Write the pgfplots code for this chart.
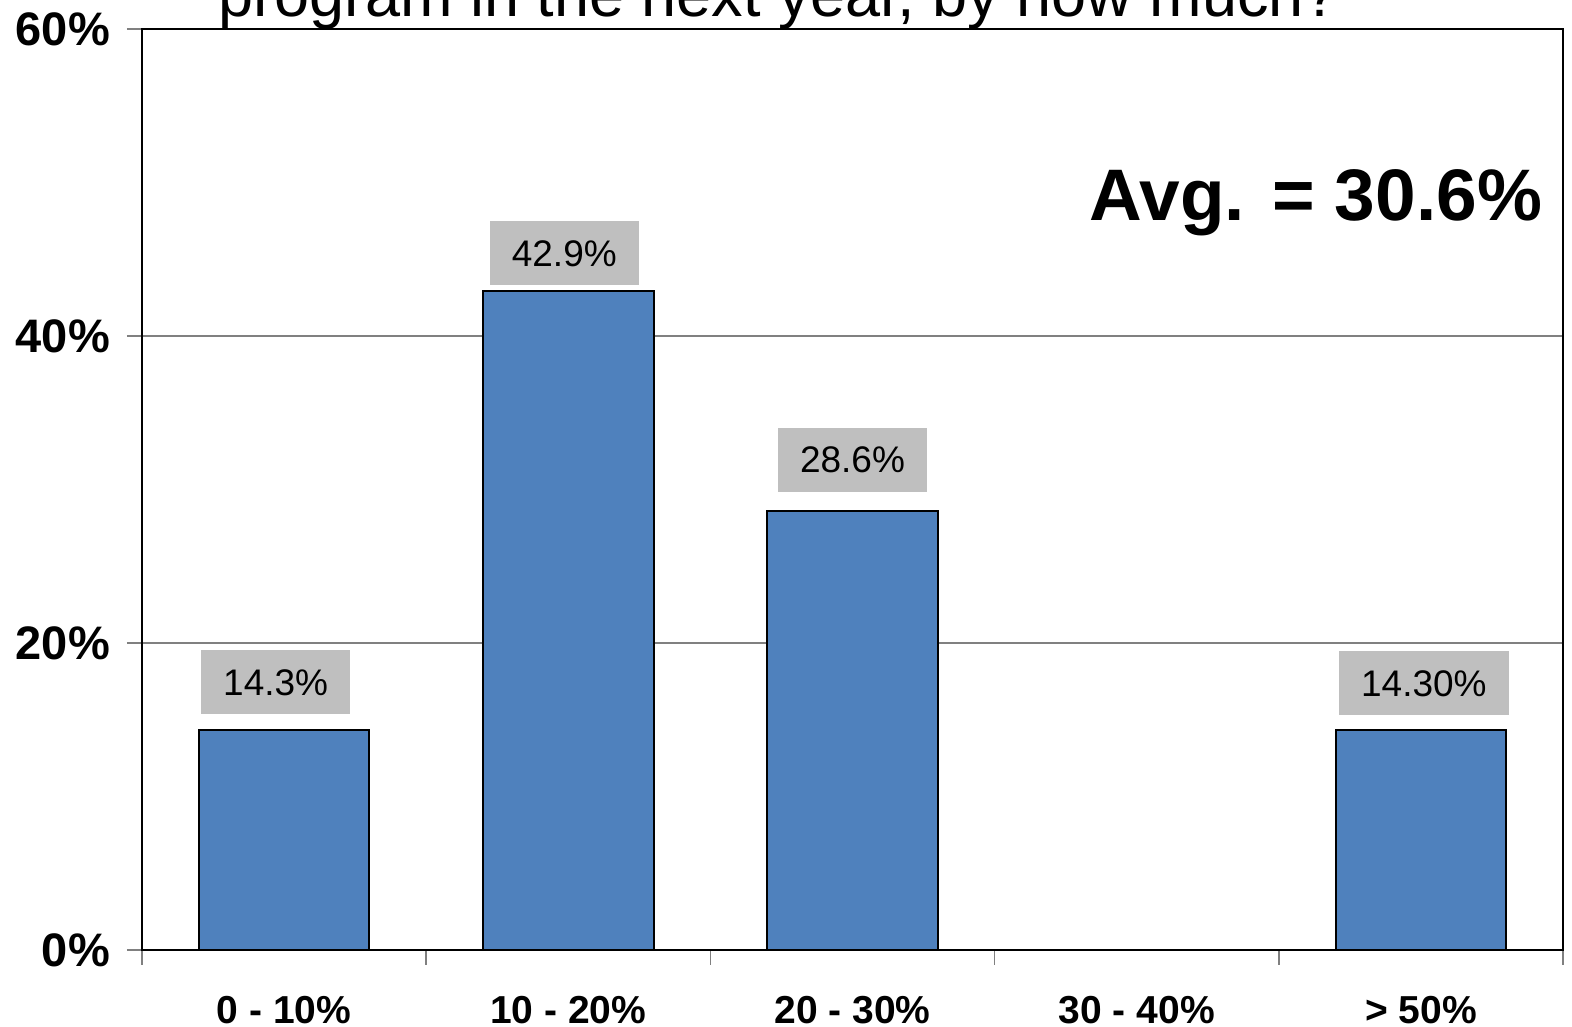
\documentclass[border=0pt]{standalone}
\usepackage{fontspec}
\setmainfont{Liberation Sans}
\usepackage{pgfplots}
\pgfplotsset{compat=1.18}
\usepackage{pgfplotstable}
\definecolor{barblue}{HTML}{4F81BD}
\definecolor{labgray}{HTML}{BFBFBF}
\definecolor{gridgray}{HTML}{808080}

% dx, dy: where the label box sits over its bar (pt)
\pgfplotstableread{
x y lab dx dy
0 14.3 14.3\% -4.2 7.5
1 42.9 42.9\% -2 2.5
2 28.6 28.6\% 0 9
4 14.3 14.30\% 1.5 7
}\increase

\begin{document}
\begin{tikzpicture}
\begin{axis}[
    width=710.5pt, height=460.5pt, scale only axis,
    clip=false,
    xmin=-0.5, xmax=4.5, ymin=0, ymax=60,
    axis line style={black, line width=1.2pt},
    xtick={0,1,2,3,4},
    xticklabels={0 - 10\%, 10 - 20\%, 20 - 30\%, 30 - 40\%, > 50\%},
    minor xtick={-0.5,0.5,1.5,2.5,3.5,4.5},
    x tick style={draw=none},
    minor x tick style={draw=gridgray, line width=0.8pt},
    minor tick length=7.5pt,
    ytick={0,20,40,60},
    yticklabels={0\%,20\%,40\%,60\%},
    y tick style={draw=gridgray, line width=0.8pt},
    major tick length=7.5pt,
    tick align=outside,
    tick pos=left,
    ymajorgrids,
    grid style={gridgray, line width=0.7pt},
    xticklabel style={font=\fontsize{19.5}{22}\selectfont\bfseries, yshift=-12pt},
    yticklabel style={font=\fontsize{23.5}{26}\selectfont\bfseries, xshift=-5pt},
    /pgf/number format/assume math mode=true,
    ybar, bar width=0.6,
    point meta=explicit symbolic,
    visualization depends on={\thisrow{dx}\as\dx},
    visualization depends on={\thisrow{dy}\as\dy},
    nodes near coords={\pgfplotspointmeta},
    every node near coord/.style={
        anchor=south, yshift=\dy pt, xshift=\dx pt,
        fill=labgray, inner xsep=11pt, inner ysep=0pt,
        minimum height=32pt, text depth=0pt,
        font=\fontsize{18.5}{20}\selectfont, text=black},
]
\addplot[fill=barblue, draw=black, line width=1pt] table[x=x, y=y, meta=lab] {\increase};
\node[font=\fontsize{36.5}{40}\selectfont\bfseries, anchor=center] at (axis cs:3.63,48.7) {Avg. = 30.6\%};
\node[font=\fontsize{31.5}{34}\selectfont, anchor=base] at ([yshift=6pt]rel axis cs:0.448,1) {program in the next year, by how much?};
\coordinate (bl) at (rel axis cs:0,0);
\coordinate (tr) at (rel axis cs:1,1);
\end{axis}
\pgfresetboundingbox
\path ([xshift=-71pt,yshift=-38.5pt]bl) rectangle ([xshift=4.5pt,yshift=14.5pt]tr);
\end{tikzpicture}
\end{document}
